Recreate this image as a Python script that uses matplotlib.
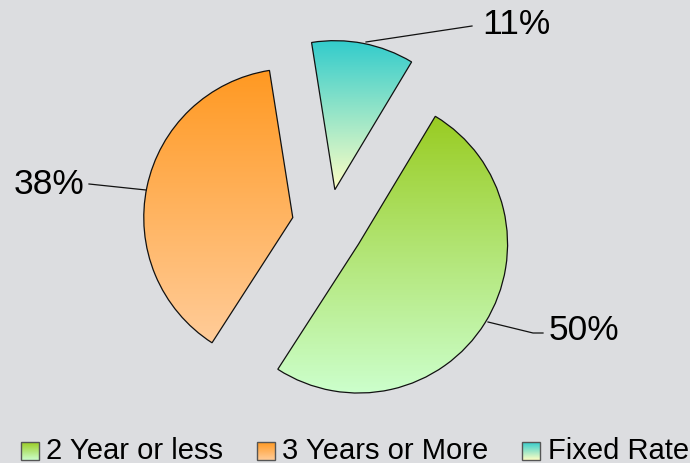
import numpy as np
import matplotlib
matplotlib.use("Agg")
import matplotlib.pyplot as plt
from matplotlib.patches import Rectangle
from matplotlib.colors import to_rgb

categories = ["2 Year or less", "3 Years or More", "Fixed Rate"]
values = [50, 38, 11]
labels = ["50%", "38%", "11%"]
grad_top = ["#99cc22", "#ff9922", "#33cccc"]
grad_bottom = ["#ccffcc", "#ffcc99", "#ffffc4"]

W, H = 690, 464
BG = "#dcdde0"
FONT = ["Liberation Sans", "DejaVu Sans"]

fig = plt.figure(figsize=(W / 100, H / 100), dpi=100, facecolor=BG)
ax = fig.add_axes([0, 0, 1, 1])
ax.set_xlim(0, W)
ax.set_ylim(0, H)
ax.set_aspect("equal")
ax.axis("off")
ax.set_facecolor(BG)


def sy(y):
    return H - y


def gradient(top, bottom, n=256):
    t = np.linspace(0, 1, n)[:, None]
    a = np.array(to_rgb(top))[None, :]
    b = np.array(to_rgb(bottom))[None, :]
    return (a * (1 - t) + b * t)[:, None, :]


radius = 149
center = (328, sy(226))
wedges, _ = ax.pie(values, startangle=59, counterclock=False, radius=radius,
                   center=center, explode=[36] * 3,
                   wedgeprops=dict(facecolor="none", edgecolor="#111111", linewidth=0.9))
ax.set_xlim(0, W)
ax.set_ylim(0, H)

for w, t, b in zip(wedges, grad_top, grad_bottom):
    ext = w.get_path().get_extents(w.get_transform() - ax.transData)
    im = ax.imshow(gradient(t, b), extent=(ext.x0, ext.x1, ext.y0, ext.y1),
                   origin="upper", aspect="auto", zorder=1, interpolation="bilinear")
    im.set_clip_path(w)
    w.set_zorder(2)

# leader lines and labels
lw = 0.9
ax.plot([488, 533, 543], [sy(323), sy(334), sy(334)], color="#111111", lw=lw, zorder=3)
ax.text(549, sy(331), labels[0], fontsize=25.5, family=FONT, ha="left", va="center")
ax.plot([146, 89], [sy(191), sy(185)], color="#111111", lw=lw, zorder=3)
ax.text(84, sy(184), labels[1], fontsize=25.5, family=FONT, ha="right", va="center")
ax.plot([366, 472], [sy(43), sy(27)], color="#111111", lw=lw, zorder=3)
ax.text(482, sy(25), labels[2], fontsize=25.5, family=FONT, ha="left", va="center")

# legend
marker_x = [21, 257, 522]
text_x = [46, 282, 548]
my0, my1 = 443, 461
for mx, tx, name, t, b in zip(marker_x, text_x, categories, grad_top, grad_bottom):
    ax.imshow(gradient(t, b), extent=(mx, mx + 18, sy(my1), sy(my0)),
              origin="upper", aspect="auto", zorder=3)
    ax.add_patch(Rectangle((mx, sy(my1)), 18, my1 - my0, facecolor="none",
                           edgecolor="#555555", lw=1.0, zorder=4))
    ax.text(tx, sy(459), name, fontsize=21, family=FONT, ha="left", va="baseline")

ax.set_xlim(0, W)
ax.set_ylim(0, H)
fig.savefig("out.png", dpi=100, facecolor=BG)
